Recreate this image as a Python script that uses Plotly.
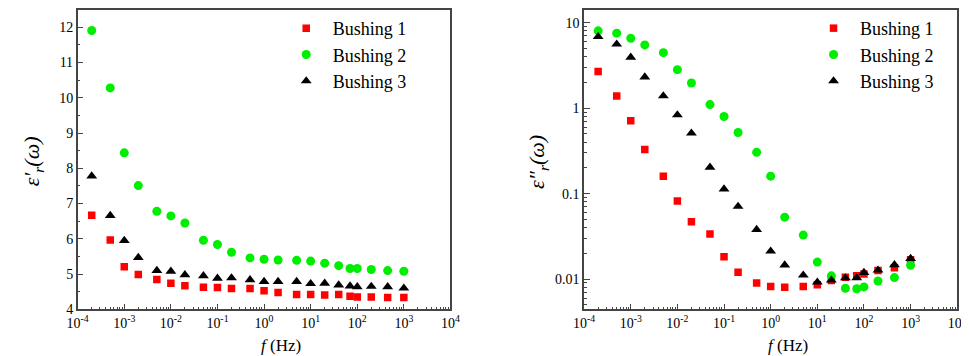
import plotly.graph_objects as go

freq = [2e-4, 5e-4, 1e-3, 2e-3, 5e-3, 1e-2, 2e-2, 5e-2, 0.1, 0.2, 0.5, 1, 2, 5, 10, 20, 40, 70, 100, 200, 450, 1000]

# Real part of permittivity
eps_real_b1 = [6.67, 5.97, 5.21, 4.99, 4.85, 4.74, 4.67, 4.63, 4.62, 4.59, 4.59, 4.53, 4.48, 4.42, 4.42, 4.41, 4.42, 4.37, 4.35, 4.35, 4.34, 4.34]
eps_real_b2 = [11.91, 10.28, 8.44, 7.51, 6.78, 6.65, 6.45, 5.96, 5.84, 5.62, 5.46, 5.42, 5.40, 5.39, 5.37, 5.31, 5.24, 5.16, 5.16, 5.13, 5.10, 5.08]
eps_real_b3 = [7.78, 6.66, 5.95, 5.47, 5.10, 5.08, 4.98, 4.95, 4.88, 4.89, 4.84, 4.79, 4.79, 4.79, 4.73, 4.74, 4.69, 4.66, 4.64, 4.65, 4.64, 4.60]

# Imaginary part of permittivity
eps_imag_b1 = [2.68, 1.39, 0.71, 0.329, 0.160, 0.082, 0.047, 0.0336, 0.0183, 0.0120, 0.0090, 0.0082, 0.0080, 0.0082, 0.0086, 0.0096, 0.0105, 0.0109, 0.0115, 0.0126, 0.0136, 0.0168]
eps_imag_b2 = [8.03, 7.55, 6.56, 5.50, 4.46, 2.82, 1.97, 1.10, 0.798, 0.519, 0.304, 0.160, 0.053, 0.0327, 0.0158, 0.0109, 0.0078, 0.0077, 0.0081, 0.0095, 0.0104, 0.0145]
eps_imag_b3 = [6.85, 5.60, 3.94, 2.31, 1.39, 0.834, 0.510, 0.203, 0.113, 0.0708, 0.0379, 0.0212, 0.0146, 0.0111, 0.0092, 0.0097, 0.0103, 0.0103, 0.0119, 0.0127, 0.0147, 0.0174]

series_names = ["Bushing 1", "Bushing 2", "Bushing 3"]
x_tickvals = [1e-4, 1e-3, 1e-2, 1e-1, 1, 10, 100, 1000, 1e4]
x_ticktext = ["10<sup>-4</sup>", "10<sup>-3</sup>", "10<sup>-2</sup>", "10<sup>-1</sup>", "10<sup>0</sup>",
              "10<sup>1</sup>", "10<sup>2</sup>", "10<sup>3</sup>", "10<sup>4</sup>"]
y1_tickvals = [4, 5, 6, 7, 8, 9, 10, 11, 12]
y2_tickvals = [0.01, 0.1, 1, 10]
y2_ticktext = ["0.01", "0.1", "1", "10"]

colors = ["#ff0000", "#00ee00", "#000000"]
symbols = ["square", "circle", "triangle-up"]
sizes = [7.5, 9, 9.5]

FONT = "Times New Roman"

fig = go.Figure()
for i, (yv, name) in enumerate(zip([eps_real_b1, eps_real_b2, eps_real_b3], series_names)):
    fig.add_trace(go.Scatter(x=freq, y=yv, mode="markers", name=name,
                             marker=dict(color=colors[i], symbol=symbols[i], size=sizes[i]),
                             xaxis="x", yaxis="y", legend="legend"))
for i, (yv, name) in enumerate(zip([eps_imag_b1, eps_imag_b2, eps_imag_b3], series_names)):
    fig.add_trace(go.Scatter(x=freq, y=yv, mode="markers", name=name,
                             marker=dict(color=colors[i], symbol=symbols[i], size=sizes[i]),
                             xaxis="x2", yaxis="y2", legend="legend2"))

axis_common = dict(showline=True, linecolor="#444", linewidth=1.5, mirror=True,
                   ticks="inside", ticklen=6, tickcolor="#444", tickwidth=1.2,
                   showgrid=False, zeroline=False,
                   tickfont=dict(family=FONT, size=14, color="black"))

xaxis_common = dict(axis_common, type="log", range=[-4, 4], tickvals=x_tickvals, ticktext=x_ticktext,
                    minor=dict(ticks="inside", ticklen=3, tickcolor="#444", tickwidth=1.2, dtick="D1", showgrid=False))

legend_common = dict(xanchor="left", yanchor="top", bgcolor="rgba(0,0,0,0)",
                     font=dict(family=FONT, size=18, color="black"), itemwidth=43, tracegroupgap=0)

fig.update_layout(
    width=969, height=356,
    margin=dict(l=0, r=0, t=0, b=0),
    paper_bgcolor="white", plot_bgcolor="white",
    font=dict(family=FONT, color="black"),
    xaxis=dict(xaxis_common, domain=[0.0619, 0.4551], anchor="y"),
    yaxis=dict(axis_common, domain=[0.134, 0.9952], anchor="x", range=[4, 12.5],
               tickvals=y1_tickvals,
               minor=dict(ticks="inside", ticklen=3, tickcolor="#444", tickwidth=1.2, dtick=0.5, showgrid=False)),
    xaxis2=dict(xaxis_common, domain=[0.5961, 0.9897], anchor="y2"),
    yaxis2=dict(axis_common, domain=[0.134, 0.9952], anchor="x2", type="log", range=[-2.3545, 1.1525],
                tickvals=y2_tickvals, ticktext=y2_ticktext,
                minor=dict(ticks="inside", ticklen=3, tickcolor="#444", tickwidth=1.2, dtick="D1", showgrid=False)),
    legend=dict(legend_common, x=266.5 / 969, y=1 - 2 / 356),
    legend2=dict(legend_common, x=805.5 / 969, y=1 - 2 / 356),
    showlegend=True,
)

fig.add_annotation(text="<i>ε′<sub>r</sub>(ω)</i>", xref="paper", yref="paper", x=15 / 969, y=1 - 157 / 356,
                   textangle=-90, showarrow=False, font=dict(family=FONT, size=22, color="black"),
                   xanchor="center", yanchor="middle")
fig.add_annotation(text="<i>ε″<sub>r</sub>(ω)</i>", xref="paper", yref="paper", x=531 / 969, y=1 - 157 / 356,
                   textangle=-90, showarrow=False, font=dict(family=FONT, size=22, color="black"),
                   xanchor="center", yanchor="middle")
fig.add_annotation(text="<i>f</i> (Hz)", xref="paper", yref="paper", x=268 / 969, y=1 - 345 / 356,
                   showarrow=False, font=dict(family=FONT, size=17, color="black"),
                   xanchor="center", yanchor="middle")
fig.add_annotation(text="<i>f</i> (Hz)", xref="paper", yref="paper", x=786 / 969, y=1 - 345 / 356,
                   showarrow=False, font=dict(family=FONT, size=17, color="black"),
                   xanchor="center", yanchor="middle")

fig.write_html("out.html")
